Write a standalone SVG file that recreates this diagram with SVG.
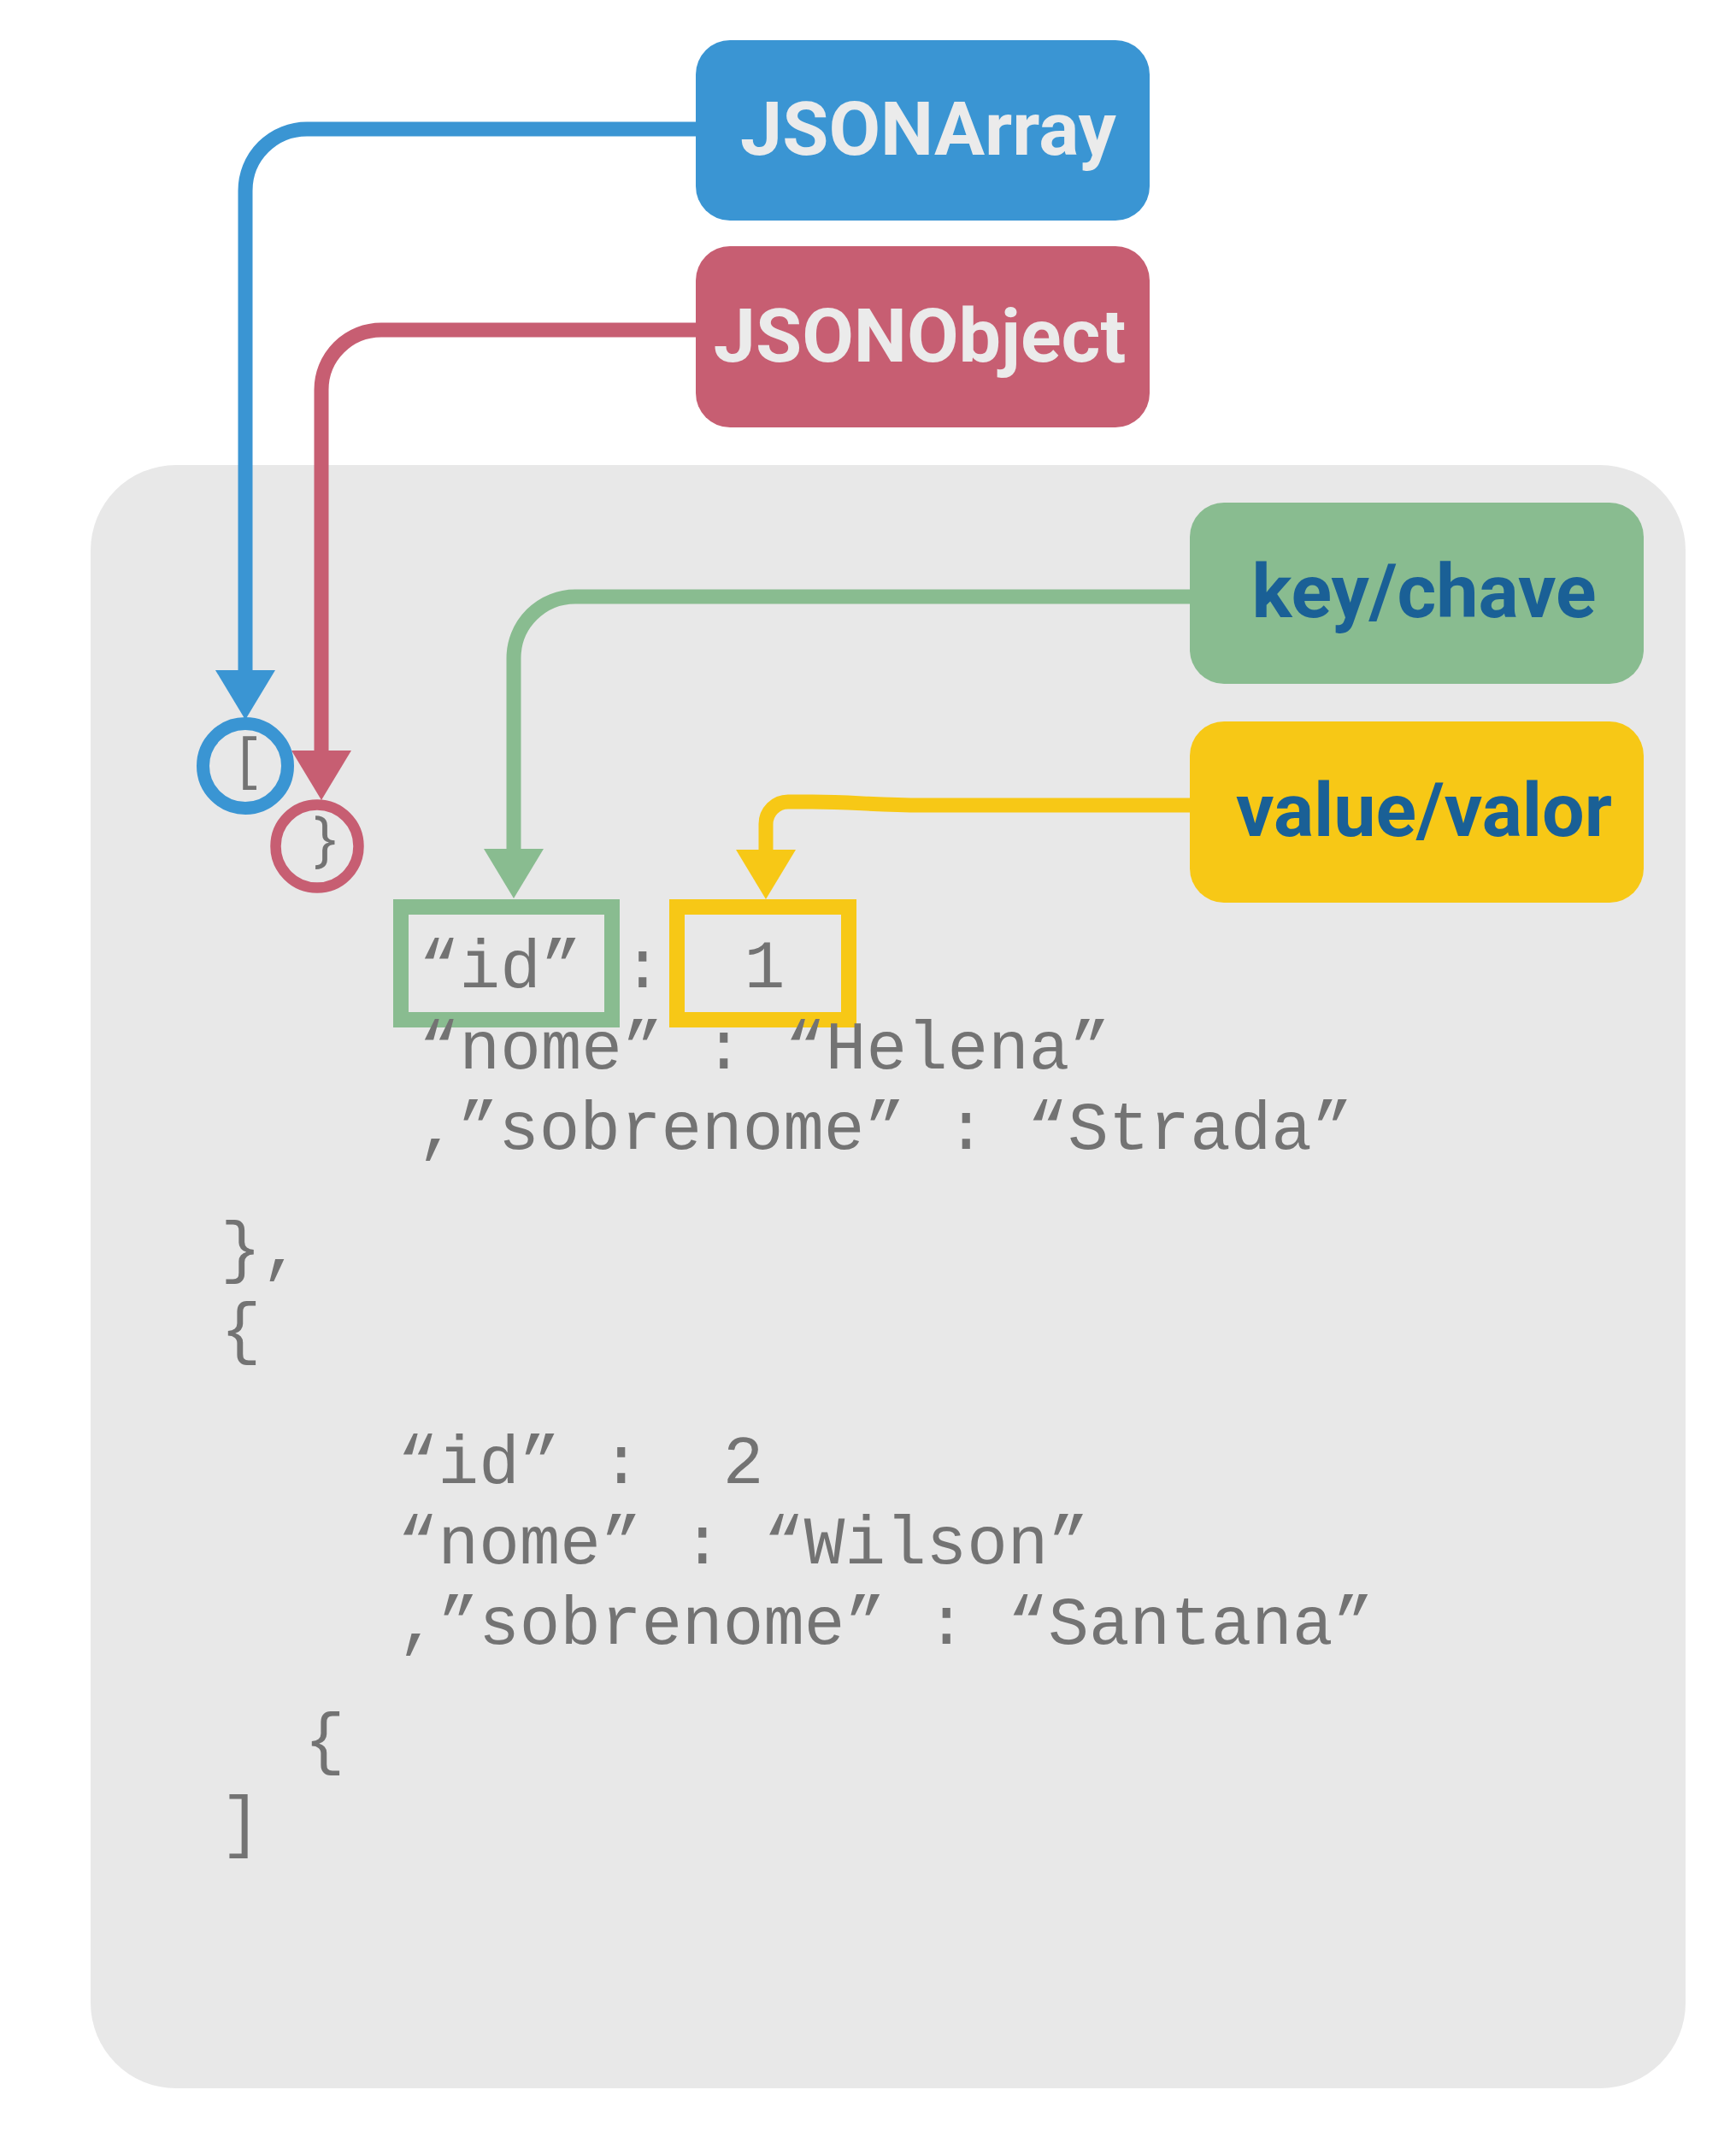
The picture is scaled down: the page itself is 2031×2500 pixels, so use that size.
<svg xmlns="http://www.w3.org/2000/svg" width="2031" height="2500" viewBox="0 0 2031 2500">
  <style>
    .lbl { font-family: Roboto, "Liberation Sans", sans-serif; font-weight: 700; font-size: 88px; text-anchor: middle; }
    .light { fill: #ebebeb; }
    .dark { fill: #1a6096; }
    .code { font-family: "Liberation Mono", "DejaVu Sans Mono", monospace; font-size: 79.3px; fill: #737373; white-space: pre; }
    .sym { font-family: "Open Sans", "DejaVu Sans", sans-serif; font-size: 71px; fill: #737373; text-anchor: middle; }
    .conn { fill: none; stroke-width: 17; }
    .ring { fill: none; }
    .hl { fill: none; stroke-width: 18; }
  </style>
  <defs>
    <marker id="arr-blue" viewBox="0 0 58 70" markerUnits="userSpaceOnUse" markerWidth="58" markerHeight="70" refX="0" refY="35" orient="auto"><path d="M0,0 L58,35 L0,70 Z" fill="#3a95d3"/></marker>
    <marker id="arr-red" viewBox="0 0 58 70" markerUnits="userSpaceOnUse" markerWidth="58" markerHeight="70" refX="0" refY="35" orient="auto"><path d="M0,0 L58,35 L0,70 Z" fill="#c75e72"/></marker>
    <marker id="arr-green" viewBox="0 0 58 70" markerUnits="userSpaceOnUse" markerWidth="58" markerHeight="70" refX="0" refY="35" orient="auto"><path d="M0,0 L58,35 L0,70 Z" fill="#89bc90"/></marker>
    <marker id="arr-yellow" viewBox="0 0 58 70" markerUnits="userSpaceOnUse" markerWidth="58" markerHeight="70" refX="0" refY="35" orient="auto"><path d="M0,0 L58,35 L0,70 Z" fill="#f7c816"/></marker>
  </defs>

  <rect width="2031" height="2500" fill="#ffffff"/>

  <g id="panel">
    <rect x="106" y="544" width="1866" height="1899" rx="100" ry="100" fill="#e8e8e8"/>
  </g>

  <g id="node-jsonarray">
    <rect x="814" y="47" width="531" height="211" rx="40" fill="#3a95d3"/>
    <text class="lbl light" x="1086" y="181">JSONArray</text>
  </g>
  <g id="node-jsonobject">
    <rect x="814" y="288" width="531" height="212" rx="40" fill="#c75e72"/>
    <text class="lbl light" x="1076" y="423">JSONObject</text>
  </g>
  <g id="node-key">
    <rect x="1392" y="588" width="531" height="212" rx="40" fill="#89bc90"/>
    <text class="lbl dark" x="1666" y="722">key/chave</text>
  </g>
  <g id="node-value">
    <rect x="1392" y="844" width="531" height="212" rx="40" fill="#f7c816"/>
    <text class="lbl dark" x="1666" y="978">value/valor</text>
  </g>

  <g id="connectors">
    <path class="conn" stroke="#3a95d3" d="M816,151 H359 A72,72 0 0 0 287,223 V784" marker-end="url(#arr-blue)"/>
    <path class="conn" stroke="#c75e72" d="M816,386 H446 A70,70 0 0 0 376,456 V878" marker-end="url(#arr-red)"/>
    <path class="conn" stroke="#89bc90" d="M1394,698 H673 A72,72 0 0 0 601,770 V993" marker-end="url(#arr-green)"/>
    <path class="conn" stroke="#f7c816" d="M1394,942 H1080 C1020,942 1000,938 950,938 H922 A26,26 0 0 0 896,964 V994" marker-end="url(#arr-yellow)"/>
  </g>

  <g id="node-array-bracket">
    <circle class="ring" cx="287" cy="896" r="49.5" stroke="#3a95d3" stroke-width="15"/>
    <text class="sym" x="290" y="913">[</text>
  </g>
  <g id="node-object-brace">
    <circle class="ring" cx="371" cy="990" r="48.5" stroke="#c75e72" stroke-width="12.5"/>
    <text class="sym" x="380" y="1006">}</text>
  </g>

  <g id="node-key-box">
    <rect class="hl" x="469" y="1061" width="247" height="132" stroke="#89bc90"/>
  </g>
  <g id="node-value-box">
    <rect class="hl" x="792" y="1061" width="201" height="132" stroke="#f7c816"/>
  </g>

  <g id="code">
    <text class="code" xml:space="preserve" x="490" y="1155">“id” :  1</text>
    <text class="code" xml:space="preserve" x="490" y="1250">“nome” : “Helena”</text>
    <text class="code" xml:space="preserve" x="488" y="1344">,”sobrenome” : “Strada”</text>
    <text class="code" xml:space="preserve" x="258" y="1485">},</text>
    <text class="code" xml:space="preserve" x="258" y="1580">{</text>
    <text class="code" xml:space="preserve" x="465" y="1735">“id” :  2</text>
    <text class="code" xml:space="preserve" x="465" y="1829">“nome” : “Wilson”</text>
    <text class="code" xml:space="preserve" x="465" y="1923">,”sobrenome” : “Santana”</text>
    <text class="code" xml:space="preserve" x="356" y="2060">{</text>
    <text class="code" xml:space="preserve" x="258" y="2157">]</text>
  </g>
</svg>
